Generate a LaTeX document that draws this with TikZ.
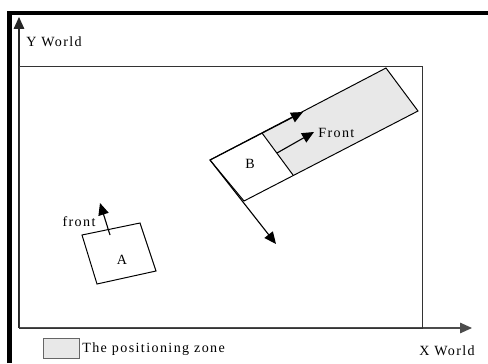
\documentclass[tikz,border=0pt]{standalone}
\usepackage{fontspec}
\setmainfont{Liberation Serif}[LetterSpace=10]
\usetikzlibrary{arrows.meta}

\begin{document}
\begin{tikzpicture}[
    x=0.025cm, y=-0.025cm,
    >={Triangle[length=8.5pt,width=7.5pt]},
    line/.style={line width=0.7pt},
    vec/.style={->,line width=0.8pt},
    zone/.style={line width=0.7pt, fill=black!9},
    lbl/.style={font=\fontsize{10}{12}\selectfont, inner sep=0pt},
]
\useasboundingbox (0,0) rectangle (488,363);

% Thick frame (left and top)
\draw[line width=2.9pt] (9.5,363) -- (9.5,13) -- (488,13);

% World axes
\coordinate (O) at (19,328);
\coordinate (Ytip) at (19,17);
\coordinate (Xtip) at (472,328);
\draw[vec,black!85] (O) -- (Ytip);
\draw[vec,black!70] (O) -- (Xtip);
\node[lbl,anchor=west] (ylab) at (26,42) {Y World};
\node[lbl] (xlab) at (447,351) {X World};

% Working area
\draw[line,black!80] (O) rectangle (422,66);

% Robot A
\coordinate (a1) at (82,235);
\coordinate (a2) at (140,223);
\coordinate (a3) at (156,271);
\coordinate (a4) at (97,284);
\draw[line] (a1) -- (a2) -- (a3) -- (a4) -- cycle;
\node[lbl] (A) at (122,260) {A};
\coordinate (afront) at (110,235);
\coordinate (afronttip) at (100,203);
\draw[vec] (afront) -- (afronttip);
\node[lbl] (frontA) at (79,222) {front};

% Robot B with its positioning zone
\coordinate (b1) at (210,160);
\coordinate (b2) at (262,133);
\coordinate (b3) at (386,68);
\coordinate (b4) at (418,111);
\coordinate (b5) at (293,175);
\coordinate (b6) at (244,201);
\fill[black!9] (b2) -- (b3) -- (b4) -- (b5) -- cycle;
\draw[line] (b1) -- (b3) -- (b4) -- (b6) -- cycle;
\draw[line] (b2) -- (b5);
\node[lbl] (B) at (250,164) {B};

% Local axes of B
\coordinate (bxtip) at (303,112);
\coordinate (bytip) at (276,244);
\draw[vec] (b1) -- (bxtip);
\draw[vec] (b1) -- (bytip);

% Front direction
\coordinate (bfront) at (277,153);
\coordinate (bfronttip) at (314,132);
\draw[vec] (bfront) -- (bfronttip);
\node[lbl,anchor=west] (frontB) at (318,133) {Front};

% Legend
\draw[zone,draw=black!60] (43,338) rectangle (79,358);
\node[lbl,anchor=west] (leg) at (82,349) {The positioning zone};
\end{tikzpicture}
\end{document}
